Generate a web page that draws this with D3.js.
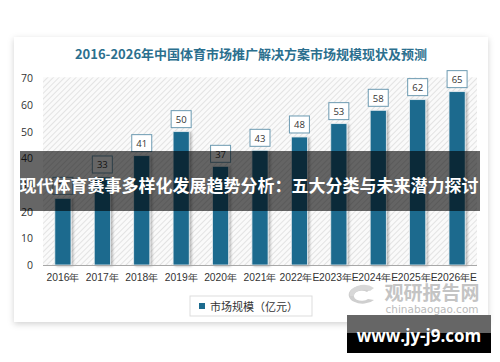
<!DOCTYPE html>
<html lang="zh">
<head>
<meta charset="UTF-8">
<script src="https://d3js.org/d3.v7.min.js"></script>
<style>
  body { margin: 0; background: #fff; font-family: "Noto Sans CJK SC", "Open Sans", sans-serif; }
</style>
</head>
<body>
<svg width="500" height="362"></svg>
<script>
const years = ['2016年', '2017年', '2018年', '2019年', '2020年', '2021年', '2022年E', '2023年E', '2024年E', '2025年E', '2026年E'];
const values = [25, 33, 41, 50, 37, 43, 48, 53, 58, 62, 65];
const yTicks = [0, 10, 20, 30, 40, 50, 60, 70];

const svg = d3.select('svg');
const defs = svg.append('defs');

// card shadow
const sh = defs.append('filter').attr('id', 'cardShadow').attr('x', '-5%').attr('y', '-5%').attr('width', '110%').attr('height', '115%');
sh.append('feDropShadow').attr('dx', 0).attr('dy', 2).attr('stdDeviation', 3).attr('flood-color', '#000').attr('flood-opacity', 0.18);

const bs = defs.append('filter').attr('id', 'barShadow').attr('x', '-30%').attr('y', '-10%').attr('width', '180%').attr('height', '130%');
bs.append('feDropShadow').attr('dx', 2).attr('dy', 1).attr('stdDeviation', 1.2).attr('flood-color', '#000').attr('flood-opacity', 0.25);

// hatched plot background
const pat = defs.append('pattern').attr('id', 'hatch').attr('patternUnits', 'userSpaceOnUse')
    .attr('width', 4).attr('height', 4).attr('patternTransform', 'rotate(45)');
pat.append('rect').attr('width', 4).attr('height', 4).attr('fill', '#fafafa');
pat.append('line').attr('x1', 0).attr('y1', 0).attr('x2', 0).attr('y2', 4).attr('stroke', '#dedede').attr('stroke-width', 1.6);

// card
svg.append('rect').attr('x', 14).attr('y', 37).attr('width', 474).attr('height', 285)
    .attr('fill', '#fff').attr('filter', 'url(#cardShadow)');

svg.append('text').attr('x', 251).attr('y', 59).attr('text-anchor', 'middle')
    .style('font-size', '13px').style('font-weight', 'bold').style('fill', '#2b6f8e')
    .text('2016-2026年中国体育市场推广解决方案市场规模现状及预测');

const pLeft = 43, pRight = 477, pTop = 78.3, pBottom = 265;

const x = d3.scaleBand().domain(years).range([pLeft, pRight]).paddingInner(0.59).paddingOuter(0.3);
const y = d3.scaleLinear().domain([0, 70]).range([pBottom, pTop]);

svg.append('rect').attr('x', pLeft).attr('y', pTop - 1).attr('width', pRight - pLeft).attr('height', pBottom - pTop + 1)
    .attr('fill', 'url(#hatch)');

// y axis labels
const ya = svg.append('g').attr('transform', `translate(${pLeft},0)`)
    .call(d3.axisLeft(y).tickValues(yTicks).tickSize(0).tickPadding(10));
ya.select('.domain').remove();
ya.selectAll('text').style('font-size', '10.5px').style('fill', '#333').style('font-family', '"Open Sans", sans-serif');

// bars
svg.append('g').selectAll('rect').data(values).join('rect')
    .attr('x', (d, i) => x(years[i]))
    .attr('y', d => y(d))
    .attr('width', x.bandwidth())
    .attr('height', d => pBottom - y(d))
    .attr('fill', '#1d6b8e')
    .attr('stroke', '#e8eef2').attr('stroke-width', 0.8)
    .attr('filter', 'url(#barShadow)');

// value labels
const lab = svg.append('g').selectAll('g').data(values).join('g')
    .attr('transform', (d, i) => `translate(${x(years[i]) + x.bandwidth() / 2},${y(d) - 12})`);
lab.append('rect').attr('x', -10).attr('y', -9).attr('width', 20).attr('height', 17)
    .attr('fill', '#fff').attr('stroke', '#6c9ab1').attr('stroke-width', 1);
lab.append('text').attr('text-anchor', 'middle').attr('dy', '0.35em')
    .style('font-size', '9.5px').style('fill', '#333').style('font-family', '"Open Sans", sans-serif')
    .text(d => d);

// x axis
const xa = svg.append('g').attr('transform', `translate(0,${pBottom})`)
    .call(d3.axisBottom(x).tickSize(0).tickPadding(9));
xa.select('.domain').attr('stroke', '#a8a8a8').attr('d', `M${pLeft},0.5H${pRight}`);
xa.selectAll('text').style('font-size', '10.3px').style('fill', '#333');

// legend
const lg = svg.append('g').attr('transform', 'translate(190,296)');
lg.append('rect').attr('width', 122).attr('height', 20).attr('fill', '#fff').attr('stroke', '#dddddd');
lg.append('rect').attr('x', 9).attr('y', 7).attr('width', 6).attr('height', 6).attr('fill', '#1d6b8e');
lg.append('text').attr('x', 20).attr('y', 14.5).style('font-size', '11px').style('fill', '#333').text('市场规模（亿元）');

// watermark
const wm = svg.append('g').style('fill', '#c6c6c6');
wm.append('path').attr('d', 'M372,288 a14,9 0 1 0 2,12 l-6,-1 a8,5 0 1 1 -1,-7 z').attr('fill', '#cfcfcf');
wm.append('path').attr('d', 'M350,296 a14,9 0 0 1 24,-8 l-4,3 a10,6 0 0 0 -16,5 z').attr('fill', '#d8d8d8');
wm.append('text').attr('x', 432).attr('y', 300).attr('text-anchor', 'middle')
    .style('font-size', '19px').style('font-weight', 'bold').style('fill', '#c4c4c4').text('观研报告网');
wm.append('text').attr('x', 432).attr('y', 313).attr('text-anchor', 'middle')
    .style('font-size', '10.5px').style('fill', '#bcbcbc').style('font-family', '"DejaVu Sans", sans-serif')
    .text('chinabaogao.com');

// overlay band
svg.append('rect').attr('x', 20).attr('y', 151).attr('width', 460).attr('height', 60).attr('fill', 'rgba(0,0,0,0.6)');
svg.append('text').attr('x', 249).attr('y', 192).attr('text-anchor', 'middle')
    .style('font-size', '17px').style('font-weight', 'bold').style('fill', '#fff')
    .text('现代体育赛事多样化发展趋势分析：五大分类与未来潜力探讨');

// site badge
svg.append('rect').attr('x', 347).attr('y', 315).attr('width', 144).attr('height', 38).attr('fill', '#000');
svg.append('rect').attr('x', 347).attr('y', 315).attr('width', 144).attr('height', 18).attr('fill', '#666');
svg.append('text').attr('x', 419).attr('y', 342).attr('text-anchor', 'middle')
    .style('font-size', '17px').style('font-weight', 'bold').style('fill', '#fff').style('font-family', '"Open Sans", sans-serif')
    .text('www.jy-j9.com');
</script>
</body>
</html>
